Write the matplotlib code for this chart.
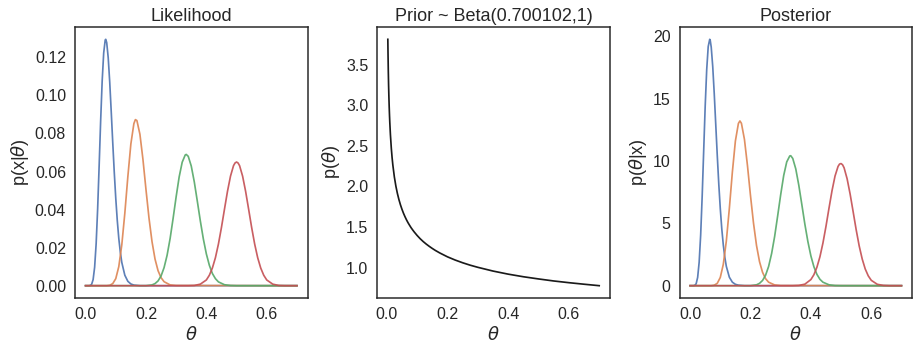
"""
Likelihood, prior and posterior for four binomial samples.

Three panels side by side: the likelihood of each sample, the
Beta(0.700102, 1) prior, and the resulting posterior densities.
"""

import matplotlib
matplotlib.use("Agg")
import matplotlib.pyplot as plt

# --- data ----------------------------------------------------------
THETA_BLUE = [0, 0.01, 0.015, 0.02, 0.025, 0.03, 0.035, 0.04, 0.045, 0.05,
              0.055, 0.06, 0.065, 0.0667, 0.07, 0.075, 0.08, 0.085, 0.09,
              0.095, 0.1, 0.105, 0.11, 0.115, 0.12, 0.13, 0.14, 0.15, 0.16,
              0.18, 0.7]
LIK_BLUE = [0, 0, 0.0001, 0.0007, 0.0032, 0.0097, 0.0220, 0.0404, 0.0632,
            0.0869, 0.1076, 0.1223, 0.1291, 0.1295, 0.1278, 0.1198, 0.1070,
            0.0914, 0.0752, 0.0597, 0.0459, 0.0343, 0.0249, 0.0177, 0.0122,
            0.0055, 0.0023, 0.0009, 0.0003, 0, 0]
POST_BLUE = [0, 0, 0.02, 0.15, 0.66, 1.88, 4.06, 7.16, 10.81, 14.40, 17.33,
             19.19, 19.77, 19.69, 19.14, 17.58, 15.40, 12.92, 10.45, 8.16,
             6.18, 4.55, 3.26, 2.28, 1.55, 0.68, 0.28, 0.11, 0.04, 0, 0]

THETA_ORANGE = [0, 0.07, 0.08, 0.09, 0.10, 0.11, 0.12, 0.13, 0.14, 0.15,
                0.16, 0.165, 0.17, 0.18, 0.19, 0.20, 0.21, 0.22, 0.23, 0.24,
                0.25, 0.26, 0.28, 0.30, 0.7]
LIK_ORANGE = [0, 0, 0.0002, 0.0011, 0.0037, 0.0100, 0.0215, 0.0381, 0.0573,
              0.0745, 0.0852, 0.0873, 0.0868, 0.0796, 0.0664, 0.0506, 0.0356,
              0.0232, 0.0140, 0.0079, 0.0042, 0.0021, 0.0004, 0.0001, 0]
POST_ORANGE = [0, 0, 0.04, 0.19, 0.66, 1.72, 3.58, 6.20, 9.12, 11.61, 13.02,
               13.22, 13.03, 11.74, 9.64, 7.23, 5.02, 3.22, 1.92, 1.07, 0.56,
               0.28, 0.06, 0.01, 0]

THETA_GREEN = [0, 0.2, 0.22, 0.23, 0.24, 0.25, 0.26, 0.27, 0.28, 0.29, 0.30,
               0.31, 0.32, 0.33, 0.3333, 0.34, 0.35, 0.36, 0.37, 0.38, 0.39,
               0.40, 0.41, 0.42, 0.43, 0.44, 0.46, 0.48, 0.5, 0.7]
LIK_GREEN = [0, 0, 0.0004, 0.0011, 0.0025, 0.0051, 0.0095, 0.0160, 0.0248,
             0.0355, 0.0468, 0.0572, 0.0649, 0.0687, 0.0690, 0.0680, 0.0629,
             0.0546, 0.0445, 0.0341, 0.0246, 0.0167, 0.0107, 0.0064, 0.0037,
             0.0020, 0.0005, 0.0001, 0, 0]
POST_GREEN = [0, 0, 0.07, 0.19, 0.42, 0.84, 1.54, 2.58, 3.95, 5.60, 7.30,
              8.84, 9.93, 10.41, 10.43, 10.21, 9.37, 8.06, 6.52, 4.95, 3.55,
              2.39, 1.52, 0.91, 0.51, 0.28, 0.07, 0.01, 0, 0]

THETA_RED = [0, 0.34, 0.36, 0.38, 0.40, 0.41, 0.42, 0.43, 0.44, 0.45, 0.46,
             0.47, 0.48, 0.49, 0.495, 0.50, 0.505, 0.51, 0.52, 0.53, 0.54,
             0.55, 0.56, 0.57, 0.58, 0.59, 0.60, 0.62, 0.64, 0.66, 0.7]
LIK_RED = [0, 0, 0.0001, 0.0008, 0.0030, 0.0055, 0.0093, 0.0147, 0.0219,
           0.0306, 0.0402, 0.0496, 0.0576, 0.0631, 0.0645, 0.0650, 0.0645,
           0.0631, 0.0576, 0.0496, 0.0402, 0.0306, 0.0219, 0.0147, 0.0093,
           0.0055, 0.0030, 0.0008, 0.0001, 0, 0]
POST_RED = [0, 0, 0.02, 0.12, 0.49, 0.88, 1.48, 2.32, 3.43, 4.76, 6.22, 7.62,
            8.80, 9.57, 9.76, 9.80, 9.70, 9.46, 8.58, 7.35, 5.93, 4.49, 3.19,
            2.14, 1.34, 0.79, 0.43, 0.11, 0.02, 0, 0]

THETA_PRIOR = [0.0035, 0.004, 0.005, 0.006, 0.007, 0.008, 0.009, 0.01, 0.012,
               0.015, 0.0175, 0.02, 0.025, 0.03, 0.035, 0.04, 0.045, 0.05,
               0.055, 0.06, 0.065, 0.07, 0.075, 0.08, 0.085, 0.09, 0.1, 0.11,
               0.12, 0.13, 0.14, 0.15, 0.16, 0.175, 0.2, 0.225, 0.25, 0.275,
               0.3, 0.35, 0.4, 0.45, 0.5, 0.55, 0.6, 0.65, 0.7]
PRIOR = [3.810, 3.668, 3.431, 3.248, 3.102, 2.980, 2.876, 2.787, 2.638,
         2.468, 2.356, 2.264, 2.117, 2.004, 1.914, 1.839, 1.775, 1.720,
         1.671, 1.628, 1.589, 1.554, 1.523, 1.493, 1.467, 1.442, 1.397, 1.357,
         1.322, 1.291, 1.263, 1.237, 1.213, 1.181, 1.134, 1.095, 1.061, 1.031,
         1.005, 0.959, 0.921, 0.889, 0.862, 0.837, 0.816, 0.797, 0.779]

PRIOR_TITLE = "Prior ~ Beta(0.700102,1)"

# --- style ------------------------------------------------------------
DARK = "#262626"
COLORS = ["#4C72B0", "#DD8452", "#55A868", "#C44E52"]

plt.rcParams.update({
    "font.family": ["Liberation Sans", "DejaVu Sans"],
    "text.color": DARK,
    "axes.labelcolor": DARK,
    "xtick.color": DARK,
    "ytick.color": DARK,
    "axes.edgecolor": DARK,
    "axes.linewidth": 1.5,
    "xtick.major.size": 0,
    "ytick.major.size": 0,
    "xtick.major.pad": 9,
    "ytick.major.pad": 9,
    "xtick.labelsize": 16,
    "ytick.labelsize": 16,
    "axes.labelsize": 18,
    "axes.titlesize": 18,
})

curves = [
    (THETA_BLUE, LIK_BLUE, POST_BLUE),
    (THETA_ORANGE, LIK_ORANGE, POST_ORANGE),
    (THETA_GREEN, LIK_GREEN, POST_GREEN),
    (THETA_RED, LIK_RED, POST_RED),
]

fig, axes = plt.subplots(1, 3, figsize=(918 / 72, 352 / 72), dpi=72)
fig.subplots_adjust(left=0.0817, right=0.9935, bottom=0.1534, top=0.9233,
                    wspace=0.30)

ax = axes[0]
for (theta, lik, _), c in zip(curves, COLORS):
    ax.plot(theta, lik, color=c, lw=1.7, alpha=0.9)
ax.set_title("Likelihood")
ax.set_ylabel(r"p(x|$\theta$)")

ax = axes[1]
ax.plot(THETA_PRIOR, PRIOR, color="#1a1a1a", lw=1.7)
ax.set_title(PRIOR_TITLE)
ax.set_ylabel(r"p($\theta$)")

ax = axes[2]
for (theta, _, post), c in zip(curves, COLORS):
    ax.plot(theta, post, color=c, lw=1.7, alpha=0.9)
ax.set_title("Posterior")
ax.set_ylabel(r"p($\theta$|x)")

for ax in axes:
    ax.set_xlabel(r"$\theta$")
    ax.set_xticks([0.0, 0.2, 0.4, 0.6])

fig.savefig("out.png", dpi=72)
